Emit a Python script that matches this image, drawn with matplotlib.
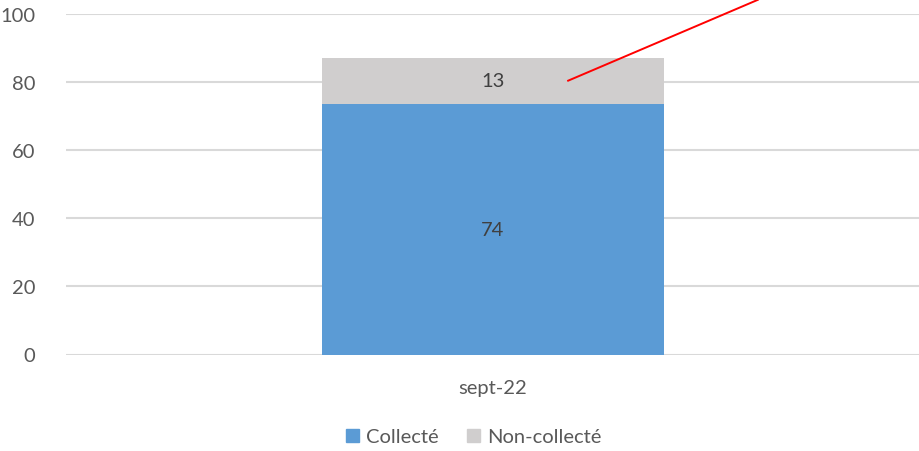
import matplotlib
matplotlib.use("Agg")
import matplotlib.pyplot as plt
from matplotlib.patches import Patch

plt.rcParams['font.family'] = ['Lato', 'DejaVu Sans']

categories = ["sept-22"]
collecte = [73.6]
non_collecte = [13.4]
series_names = ["Collecté", "Non-collecté"]
yticks = [0, 20, 40, 60, 80, 100]
# red annotation line endpoints (data coordinates)
line_x = [0.088, 0.31]
line_y = [80.3, 104]

blue = "#5b9bd5"
gray = "#d0cece"
text_col = "#595959"

fig = plt.figure(figsize=(9.2, 4.52), dpi=100)
ax = fig.add_axes([66/920, 96.5/452, 1 - 66/920, 341/452])

x = list(range(len(categories)))
w = 0.4016
ax.bar(x, collecte, width=w, color=blue, zorder=3)
ax.bar(x, non_collecte, width=w, bottom=collecte, color=gray, zorder=3)

for i in x:
    ax.text(i, collecte[i] / 2, f"{collecte[i]:.0f}", ha="center", va="center",
            fontsize=14.5, color="#404040", zorder=4)
    ax.text(i, collecte[i] + non_collecte[i] / 2, f"{non_collecte[i]:.0f}", ha="center",
            va="center", fontsize=14.5, color="#404040", zorder=4)

ax.plot(line_x, line_y, color="red", lw=1.4, clip_on=False, zorder=5)

ax.set_xlim(-0.5, 0.5)
ax.set_ylim(0, 100)
ax.set_yticks(yticks)
ax.set_xticks(x)
ax.set_xticklabels(categories)
ax.grid(axis="y", color="#d9d9d9", lw=1.5, zorder=0)
for s in ax.spines.values():
    s.set_visible(False)
ax.tick_params(axis="both", length=0, labelsize=14.5, colors=text_col)
ax.tick_params(axis="y", pad=22)
ax.tick_params(axis="x", pad=18)

handles = [Patch(color=blue), Patch(color=gray)]
fig.legend(handles, series_names, loc="center", bbox_to_anchor=(474/920, 1 - 438/452),
           ncol=2, frameon=False, fontsize=14.5, labelcolor=text_col,
           handlelength=0.65, handleheight=0.65, handletextpad=0.35, columnspacing=1.4)

fig.savefig("out.png", dpi=100)
